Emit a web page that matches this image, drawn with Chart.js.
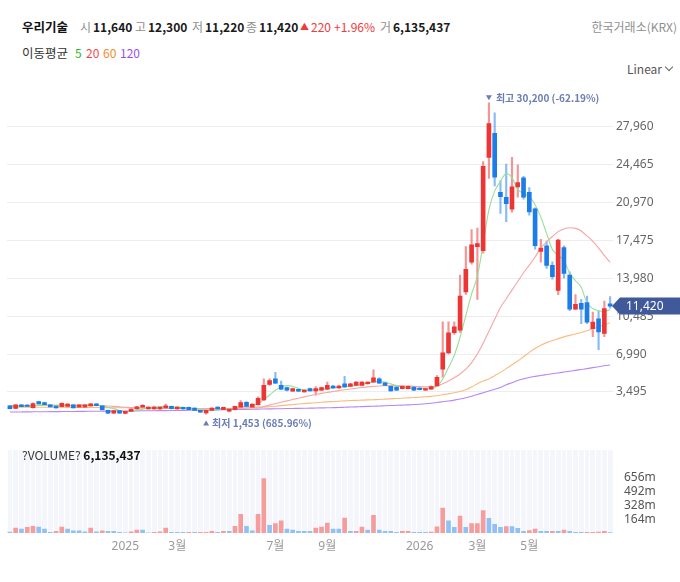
<!DOCTYPE html>
<html><head><meta charset="utf-8">
<script src="https://cdn.jsdelivr.net/npm/chart.js@4/dist/chart.umd.min.js"></script>
<style>
html,body{margin:0;padding:0;background:#fff;width:680px;height:582px;overflow:hidden;font-family:'Noto Sans CJK KR','Noto Sans',sans-serif;}
.a{position:absolute;white-space:nowrap;font-size:12px;line-height:16px;}
.g{color:#8f8f8f;}
.n{color:#1a1a1a;font-weight:600;}
.r{color:#ee3b3b;}
#price{position:absolute;left:0;top:80px;}
#vol{position:absolute;left:0;top:440px;}
.chev{position:absolute;left:666px;top:64px;width:5px;height:5px;border-right:1.2px solid #666;border-bottom:1.2px solid #666;transform:rotate(45deg);}
</style></head>
<body>
<canvas id="price" width="680" height="360" style="width:680px;height:360px"></canvas>
<canvas id="vol" width="680" height="142" style="width:680px;height:142px"></canvas>

<div class="a" style="left:22px;top:19px;font-weight:700;color:#111;font-size:12.5px;">우리기술</div>
<div class="a g" style="left:80px;top:19px;">시</div><div class="a n" style="left:93px;top:19px;">11,640</div>
<div class="a g" style="left:135px;top:19px;">고</div><div class="a n" style="left:148px;top:19px;">12,300</div>
<div class="a g" style="left:192px;top:19px;">저</div><div class="a n" style="left:205px;top:19px;">11,220</div>
<div class="a g" style="left:246px;top:19px;">종</div><div class="a n" style="left:259px;top:19px;">11,420</div>
<div class="a r" style="left:300px;top:19px;font-size:9px;">▲</div>
<div class="a r" style="left:311px;top:19px;">220</div><div class="a r" style="left:334px;top:19px;">+1.96%</div>
<div class="a g" style="left:380px;top:19px;">거</div><div class="a n" style="left:393px;top:19px;">6,135,437</div>
<div class="a g" style="right:3px;top:19px;">한국거래소(KRX)</div>

<div class="a" style="left:22px;top:45px;color:#333;font-size:12.5px;">이동평균</div>
<div class="a" style="left:75px;top:45px;color:#2db82d;">5</div>
<div class="a" style="left:86px;top:45px;color:#f04848;">20</div>
<div class="a" style="left:103px;top:45px;color:#f08c28;">60</div>
<div class="a" style="left:120px;top:45px;color:#9b4cf0;">120</div>
<div class="a" style="left:627px;top:61px;color:#555;">Linear</div>
<div class="chev"></div>

<div class="a" style="left:22px;top:447px;color:#333;">?VOLUME? <b style="color:#111">6,135,437</b></div>

<script>
// ---------- DATA ----------
const open = [2220,1980,2300,2290,2050,2600,2520,2300,2200,2130,
2150,2310,2100,2100,2210,2400,2220,1800,1530,1770,
1520,1700,1920,2100,1920,1920,1920,2010,2160,1920,
2070,2070,2010,1800,1560,1800,2100,1870,1710,1860,
2093,2543,2093,2310,2760,4196,4700,4106,3890,3567,
3747,3504,3800,3594,3657,3747,4043,3863,4250,4013,
4106,4106,4250,4400,4700,4340,4016,3953,3800,3800,
3953,3863,3657,3750,4043,5598,7098,8958,9192,12732,
15481,16918,16532,25158,27377,21923,21474,20369,22436,23271,
21923,20400,16469,16982,15185,12875,16829,14286,11141,11680,
11743,9344,10243,8895,11640];
const high = [2260,2340,2330,2330,2480,2640,2560,2330,2240,2500,
2420,2340,2330,2330,2420,2430,2240,1820,1790,1790,
1720,1940,2160,2330,2130,2200,2130,2380,2200,2130,
2100,2090,2030,1820,1820,2030,2130,2090,1940,2200,
2700,2600,2400,3055,4700,4700,5300,4490,3950,3860,
3800,3700,3860,3980,3950,4400,4100,4100,4940,4300,
4450,4450,4440,5544,4790,4380,4060,3990,4060,4060,
3990,3900,3840,4050,5004,9973,9973,9973,14286,16918,
18482,18625,24771,30200,29264,23001,24529,25158,24466,23400,
22372,20500,17583,17430,15500,17600,16982,14583,12489,12040,
12336,10872,10988,11887,12300];
const low = [1930,1960,2120,2110,1990,2360,2300,2110,2000,2100,
2130,2010,2080,2080,2190,2200,1820,1500,1510,1520,
1470,1680,1900,2080,1900,1900,1890,1990,1930,1900,
1900,1840,1780,1600,1453,1780,1900,1850,1650,1840,
2060,2120,2060,2280,2700,4100,4250,3700,3600,3540,
3520,3480,3560,3190,3620,3700,3820,3830,3920,3980,
4080,4080,4220,4370,4280,4080,3560,3620,3770,3770,
3620,3680,3630,3720,4010,4852,7000,8800,9000,12500,
15300,12040,16300,23208,22525,19973,19228,20100,21474,21300,
19829,16685,15481,14900,13900,12489,13990,11000,11100,9794,
9800,8599,7395,8599,11220];
const close = [1960,2300,2140,2150,2420,2380,2320,2120,2020,2440,
2380,2030,2310,2310,2400,2220,1860,1540,1770,1530,
1700,1920,2120,2250,2100,2100,2100,2220,1950,2100,
1920,1860,1800,1620,1800,2010,1920,2070,1920,2160,
2516,2156,2366,2900,4106,4555,4313,3747,3657,3800,
3567,3657,3594,3800,3890,4106,3863,4043,3953,4250,
4400,4400,4400,4790,4313,4106,3594,3657,4016,4016,
3657,3710,3800,4000,4852,7098,8958,9497,12336,14825,
17072,17188,24322,28276,23334,21537,20872,22436,22822,21474,
20127,17000,16775,15185,14133,17521,14439,11141,11591,11141,
9946,9946,9048,11200,11420];

const ma5 = [2200,2200,2180,2150,2194,2278,2282,2278,2252,2256,
2256,2198,2236,2294,2286,2254,2220,2066,1958,1784,
1680,1692,1808,1904,2018,2098,2134,2154,2094,2094,
2058,2010,1926,1860,1800,1818,1830,1884,1944,2016,
2117,2164,2224,2420,2809,3217,3648,3924,4076,4014,
3817,3686,3655,3684,3702,3809,3851,3940,3971,4043,
4102,4209,4281,4448,4461,4402,4241,4092,3937,3878,
3788,3811,3840,3837,4004,4692,5742,6881,8548,10543,
12538,14184,17149,20337,22038,22931,23668,23291,22200,21828,
21546,20772,19640,18112,16644,16123,15611,14484,13765,13167,
11700,11200,11000,10950,11080];
const ma20 = [2200,2210,2220,2230,2240,2250,2260,2265,2270,2270,
2270,2265,2260,2255,2250,2245,2230,2200,2160,2120,
2080,2050,2030,2010,2000,1990,1985,1980,1975,1970,
1965,1960,1955,1950,1945,1945,1950,1955,1965,1980,
2000,2030,2060,2100,2150,2280,2410,2540,2670,2800,
2920,3040,3150,3260,3360,3450,3540,3620,3700,3770,
3840,3900,3960,4010,4050,4070,4080,4080,4070,4050,
4020,3990,3960,3960,4050,4250,4500,4800,5150,5600,
6200,7000,8000,9100,10200,11300,12100,12900,13700,14500,
15200,15950,16800,17350,17850,18300,18550,18650,18600,18350,
17900,17400,16800,16100,15450];
const ma60 = [2100,2098,2095,2092,2090,2088,2085,2082,2080,2078,
2075,2070,2066,2062,2058,2054,2050,2045,2040,2035,
2030,2025,2020,2015,2010,2005,2000,1995,1990,1985,
1980,1976,1972,1968,1965,1963,1962,1962,1965,1970,
1980,1995,2015,2040,2080,2130,2180,2230,2280,2330,
2380,2420,2460,2500,2540,2580,2610,2640,2670,2700,
2720,2740,2760,2780,2800,2830,2860,2890,2920,2950,
2980,3010,3050,3090,3150,3230,3320,3420,3540,3700,
3950,4250,4500,4700,5000,5300,5650,6000,6350,6750,
7150,7500,7800,8050,8250,8420,8580,8720,8850,8980,
9150,9320,9500,9700,9880];
const ma120 = [1640,1645,1650,1655,1660,1665,1670,1675,1680,1685,
1690,1695,1700,1705,1710,1715,1720,1725,1730,1735,
1740,1745,1750,1755,1760,1765,1770,1775,1780,1785,
1790,1800,1805,1810,1820,1830,1840,1850,1860,1870,
1880,1890,1900,1910,1920,1930,1940,1950,1960,1970,
1980,1990,2000,2010,2020,2030,2045,2060,2080,2100,
2120,2140,2160,2180,2200,2220,2240,2260,2280,2300,
2330,2360,2400,2450,2520,2590,2660,2740,2840,2960,
3100,3260,3420,3580,3740,3900,4150,4350,4550,4700,
4830,4930,5020,5100,5180,5250,5330,5410,5490,5570,
5650,5740,5820,5910,5990];

// volume in millions
const volume = [11,58,47,66,80,69,47,8,19,69,
47,25,25,14,58,14,25,19,19,8,
2,14,36,36,2,8,14,58,8,8,
8,8,8,8,8,19,8,19,19,80,
222,80,25,222,648,91,113,145,47,36,
19,19,19,58,69,117,47,47,178,19,
19,69,36,211,36,19,19,8,19,19,
8,8,8,11,73,295,145,66,200,66,
113,113,266,175,102,66,77,77,55,19,
30,47,19,19,19,19,36,19,8,8,
8,8,11,19,6.135437];
const volUp = [0,1,0,1,1,0,0,0,1,1,
0,0,0,0,1,0,1,0,0,0,
0,1,1,0,0,1,1,1,0,0,
0,1,0,1,1,1,0,1,0,1,
1,0,0,1,1,0,1,1,0,0,
0,0,0,1,1,1,0,0,1,0,
1,1,0,1,0,0,0,0,1,1,
0,0,0,1,1,1,0,0,1,0,
1,1,1,0,0,0,1,0,0,0,
1,1,0,0,1,0,1,0,0,0,
1,1,1,1,0];

const priceTicks = [3495,6990,10485,13980,17475,20970,24465,27960];
const volTicks = [164,328,492,656];
const xTickIndex = [20,29,46,55,71,81,90];
const xTickText = ['2025','3월','7월','9월','2026','3월','5월'];

// ---------- STYLE ----------
const UP='#ee3535', DN='#1c7de8', UPW='rgba(240,90,90,0.65)', DNW='rgba(70,150,240,0.65)';
const VUP='#f59c9c', VDN='#8fc1f6';
const FONT="'Noto Sans','Noto Sans CJK KR',sans-serif";
Chart.defaults.font.family = FONT;

const cats = close.map((_, i) => i);
const bodies = open.map((o, i) => [o, close[i]]);
const wicks = low.map((l, i) => [l, high[i]]);
const isUp = i => close[i] >= open[i];
const fmt = v => v.toLocaleString('en-US');

function line(data, color, order){
  return {type:'line', data, borderColor:color, borderWidth:1.1, pointRadius:0,
    cubicInterpolationMode:'monotone', order, fill:false};
}

const pricePlugin = {
  id:'priceMarks',
  afterDraw(chart){
    const {ctx} = chart; const x = chart.scales.x, y = chart.scales.y;
    let iMax=0, iMin=0;
    high.forEach((h,i)=>{ if(h>high[iMax]) iMax=i; });
    low.forEach((l,i)=>{ if(l<low[iMin]) iMin=i; });
    const last = close[close.length-1];
    ctx.save();
    ctx.fillStyle = '#6a7db5';
    ctx.font = "bold 10px 'Noto Sans CJK KR','Noto Sans',sans-serif";
    ctx.textBaseline = 'middle';
    // max label
    let cx = x.getPixelForValue(iMax), cy = y.getPixelForValue(high[iMax]) - 5;
    ctx.beginPath(); ctx.moveTo(cx-3, cy-2.5); ctx.lineTo(cx+3, cy-2.5); ctx.lineTo(cx, cy+2.5); ctx.closePath(); ctx.fill();
    ctx.fillText('최고 ' + fmt(high[iMax]) + ' (' + ((last/high[iMax]-1)*100).toFixed(2) + '%)', cx+7, cy);
    // min label
    cx = x.getPixelForValue(iMin); cy = y.getPixelForValue(low[iMin]) + 9;
    ctx.beginPath(); ctx.moveTo(cx-3, cy+2.5); ctx.lineTo(cx+3, cy+2.5); ctx.lineTo(cx, cy-2.5); ctx.closePath(); ctx.fill();
    ctx.fillText('최저 ' + fmt(low[iMin]) + ' (' + ((last/low[iMin]-1)*100).toFixed(2) + '%)', cx+6, cy);
    // last price tag
    const ty = y.getPixelForValue(last), tx = chart.chartArea.right - 1;
    ctx.fillStyle = '#40599a';
    ctx.beginPath(); ctx.moveTo(tx, ty); ctx.lineTo(tx+8, ty-8.5); ctx.lineTo(680, ty-8.5); ctx.lineTo(680, ty+8.5); ctx.lineTo(tx+8, ty+8.5); ctx.closePath(); ctx.fill();
    ctx.fillStyle = '#fff';
    ctx.font = "12px " + FONT;
    ctx.fillText(fmt(last), tx+14, ty+0.5);
    ctx.restore();
  }
};

new Chart(document.getElementById('price'), {
  type:'bar',
  data:{labels:cats, datasets:[
    {type:'bar', data:bodies, backgroundColor:c=>isUp(c.dataIndex)?UP:DN, barThickness:4, grouped:false, minBarLength:1, order:0},
    line(ma5,'#97e097',1), line(ma20,'#f7a5a5',2), line(ma60,'#f9bc80',3), line(ma120,'#b986f4',4),
    {type:'bar', data:wicks, backgroundColor:c=>isUp(c.dataIndex)?UPW:DNW, barThickness:1.5, grouped:false, order:5}
  ]},
  options:{
    responsive:false, animation:false, events:[],
    layout:{padding:{left:7,right:0,top:5,bottom:6}},
    plugins:{legend:{display:false}, tooltip:{enabled:false}},
    scales:{
      x:{display:false, offset:true, grid:{display:false}},
      y:{position:'right', min:0, max:31358,
        afterBuildTicks:s=>{ s.ticks = priceTicks.map(v=>({value:v})); },
        afterFit:s=>{ s.width = 67; },
        grid:{color:'#ededed', drawTicks:false}, border:{display:false},
        ticks:{padding:3, color:'#666', font:{size:12}, callback:v=>fmt(v)}}
    }
  },
  plugins:[pricePlugin]
});

new Chart(document.getElementById('vol'), {
  type:'bar',
  data:{labels:cats, datasets:[{data:volume, backgroundColor:c=>volUp[c.dataIndex]?VUP:VDN, barThickness:4}]},
  options:{
    responsive:false, animation:false, events:[],
    layout:{padding:{left:7,right:0,top:3,bottom:0}},
    plugins:{legend:{display:false}, tooltip:{enabled:false}},
    scales:{
      x:{offset:true, grid:{color:'#ffffff', drawTicks:false, offset:true}, border:{display:false},
        afterFit:s=>{ s.height = 49; },
        ticks:{autoSkip:false, maxRotation:0, padding:6, color:'#999', font:{size:12},
          callback:(v,i)=>{ const k = xTickIndex.indexOf(i); return k>=0 ? xTickText[k] : ''; }}},
      y:{position:'right', min:0, max:984,
        afterBuildTicks:s=>{ s.ticks = volTicks.map(v=>({value:v})); },
        afterFit:s=>{ s.width = 67; },
        grid:{display:false}, border:{display:false},
        ticks:{padding:3, color:'#555', font:{size:12}, callback:v=>v+'m'}}
    }
  },
  plugins:[{id:'volBg', beforeDraw(chart){ const {ctx, chartArea:a} = chart; ctx.save(); ctx.fillStyle='#f4f6fb'; ctx.fillRect(a.left,a.top,a.right-a.left,a.bottom-a.top); ctx.restore(); }}]
});
</script>
</body></html>
